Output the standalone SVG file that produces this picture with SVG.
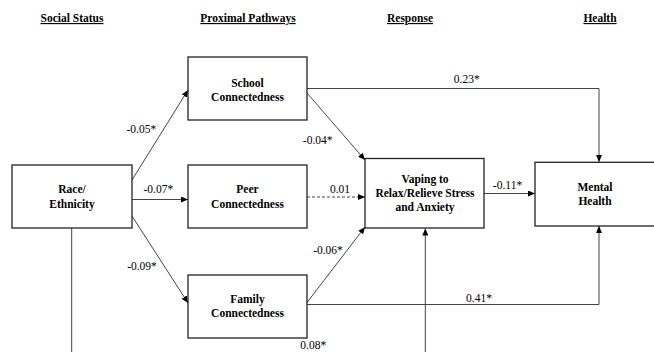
<svg xmlns="http://www.w3.org/2000/svg" width="654" height="352" viewBox="0 0 654 352">
<style>
.hdr{font-family:"Liberation Serif","Times New Roman",serif;font-size:11.5px;font-weight:bold;text-anchor:middle;text-decoration:underline;fill:#000}
.box{fill:#fff;stroke:#222;stroke-width:1.3}
.nt{font-family:"Liberation Serif","Times New Roman",serif;font-size:11.5px;font-weight:bold;text-anchor:middle;fill:#000}
.el{font-family:"Liberation Serif","Times New Roman",serif;font-size:11.5px;text-anchor:middle;fill:#000}
.c{fill:none;stroke:#444;stroke-width:1}
.a{marker-end:url(#arr)}
.d{stroke-dasharray:3,2}
</style>
<defs>
<marker id="arr" markerUnits="userSpaceOnUse" markerWidth="8" markerHeight="6" refX="7" refY="3" orient="auto">
<path d="M0,0 L7,3 L0,6 z" fill="#000"/>
</marker>
</defs>
<rect width="654" height="352" fill="#fff"/>
<g id="headers">
<text class="hdr" x="72" y="22">Social Status</text>
<text class="hdr" x="248" y="22">Proximal Pathways</text>
<text class="hdr" x="410" y="22">Response</text>
<text class="hdr" x="600" y="22">Health</text>
</g>
<g id="connectors">
<line class="c a" x1="132" y1="180" x2="188" y2="90"/>
<line class="c a" x1="132" y1="199.5" x2="188" y2="199.5"/>
<line class="c a" x1="132" y1="216" x2="188" y2="303"/>
<line class="c a" x1="307" y1="93" x2="365" y2="160"/>
<line class="c a d" x1="307" y1="197" x2="365" y2="197"/>
<line class="c a" x1="307" y1="302.5" x2="365" y2="227"/>
<polyline class="c a" points="307,88.5 599,88.5 599,162"/>
<polyline class="c a" points="307,304.5 599,304.5 599,226"/>
<line class="c a" x1="484" y1="193.5" x2="535" y2="193.5"/>
<line class="c" x1="71.7" y1="228" x2="71.7" y2="360"/>
<line class="c a" x1="425.3" y1="360" x2="425.3" y2="228.5"/>
<text class="el" x="141.3" y="133.3">-0.05*</text>
<text class="el" x="158.3" y="193">-0.07*</text>
<text class="el" x="142" y="270">-0.09*</text>
<text class="el" x="317.7" y="144">-0.04*</text>
<text class="el" x="340" y="192.5">0.01</text>
<text class="el" x="328" y="254">-0.06*</text>
<text class="el" x="466.7" y="83.3">0.23*</text>
<text class="el" x="507.5" y="189.3">-0.11*</text>
<text class="el" x="479" y="301.5">0.41*</text>
<text class="el" x="313.3" y="349">0.08*</text>
</g>
<g id="race">
<rect class="box" x="12" y="165" width="120" height="63"/>
<text class="nt" x="72" y="193.3">Race/</text>
<text class="nt" x="72" y="207.7">Ethnicity</text>
</g>
<g id="school">
<rect class="box" x="188" y="57" width="119" height="63"/>
<text class="nt" x="247.5" y="86.5">School</text>
<text class="nt" x="247.5" y="100.5">Connectedness</text>
</g>
<g id="peer">
<rect class="box" x="188" y="165" width="119" height="63"/>
<text class="nt" x="247.5" y="193.3">Peer</text>
<text class="nt" x="247.5" y="207.7">Connectedness</text>
</g>
<g id="family">
<rect class="box" x="188" y="275" width="119" height="63"/>
<text class="nt" x="247.5" y="303">Family</text>
<text class="nt" x="247.5" y="317">Connectedness</text>
</g>
<g id="vaping">
<rect class="box" x="365" y="158.5" width="119" height="69.5"/>
<text class="nt" x="425" y="182.7">Vaping to</text>
<text class="nt" x="425" y="196.9">Relax/Relieve Stress</text>
<text class="nt" x="425" y="211.1">and Anxiety</text>
</g>
<g id="mental">
<rect class="box" x="535" y="162.3" width="125" height="63.7"/>
<text class="nt" x="595" y="191">Mental</text>
<text class="nt" x="595" y="205.3">Health</text>
</g>
</svg>
